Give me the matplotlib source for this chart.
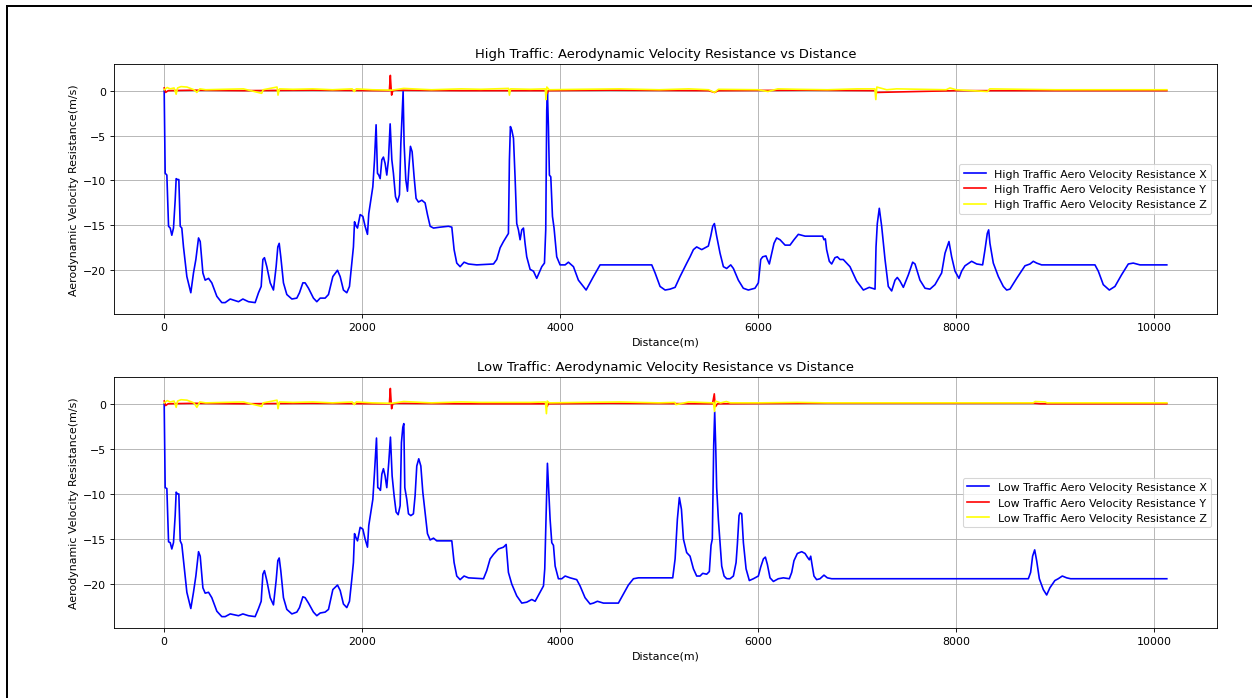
"""
Aerodynamic velocity resistance along the route, high vs low traffic.

Two stacked panels, one per traffic condition, each showing the X, Y and Z
components of the aero velocity resistance against travelled distance.
"""

import matplotlib
matplotlib.use("Agg")
import matplotlib.pyplot as plt
from matplotlib.lines import Line2D

# ---- High traffic -------------------------------------------------------
high_x_dist = [0, 10, 27, 44, 61, 77, 94, 111, 121, 135, 148, 162, 178, 195, 229, 269,
               296, 320, 347, 364, 391, 414, 448, 481, 532, 582, 616, 667, 751, 795,
               852, 919, 953, 980, 997, 1013, 1037, 1071, 1104, 1131, 1148, 1162, 1178,
               1205, 1239, 1290, 1340, 1367, 1401, 1424, 1458, 1508, 1542, 1576, 1626,
               1660, 1704, 1751, 1778, 1811, 1845, 1872, 1896, 1912, 1923, 1936, 1953,
               1980, 2007, 2030, 2054, 2067, 2088, 2108, 2125, 2141, 2155, 2168, 2182,
               2199, 2215, 2232, 2249, 2266, 2283, 2300, 2316, 2337, 2357, 2377, 2391,
               2404, 2414, 2424, 2441, 2458, 2471, 2488, 2505, 2525, 2545, 2569, 2603,
               2636, 2660, 2687, 2721, 2788, 2872, 2906, 2929, 2956, 2990, 3030, 3074,
               3158, 3327, 3360, 3394, 3428, 3461, 3478, 3488, 3498, 3512, 3529, 3545,
               3562, 3579, 3596, 3613, 3630, 3646, 3663, 3697, 3731, 3764, 3788, 3815,
               3842, 3855, 3865, 3872, 3882, 3892, 3906, 3923, 3939, 3966, 4000, 4051,
               4084, 4135, 4185, 4263, 4337, 4404, 4471, 4640, 4926, 4960, 5010, 5061,
               5111, 5162, 5212, 5280, 5313, 5347, 5380, 5431, 5498, 5522, 5542, 5559,
               5582, 5616, 5650, 5683, 5724, 5751, 5801, 5851, 5902, 5969, 6003, 6027,
               6047, 6080, 6094, 6114, 6138, 6161, 6188, 6222, 6273, 6323, 6363, 6407,
               6475, 6592, 6653, 6666, 6680, 6693, 6720, 6744, 6777, 6801, 6828, 6861,
               6929, 6996, 7064, 7124, 7182, 7192, 7205, 7225, 7249, 7283, 7316, 7350,
               7384, 7407, 7434, 7468, 7519, 7562, 7586, 7636, 7687, 7737, 7788, 7855,
               7889, 7929, 7956, 7990, 8030, 8057, 8091, 8158, 8209, 8269, 8293, 8316,
               8330, 8343, 8377, 8428, 8478, 8512, 8545, 8613, 8697, 8748, 8781, 8815,
               8865, 9404, 9438, 9488, 9549, 9606, 9673, 9741, 9791, 9859, 10130]
high_x_val = [0.0, -9.2, -9.4, -15.1, -15.3, -16.1, -15.3, -12.2, -9.8, -9.9, -9.9, -15.1,
              -15.3, -17.4, -20.7, -22.5, -20.3, -18.8, -16.4, -16.8, -20.3, -21.1, -20.9,
              -21.4, -22.9, -23.6, -23.6, -23.2, -23.5, -23.2, -23.5, -23.6, -22.5, -21.8,
              -18.8, -18.6, -19.6, -21.4, -22.2, -19.6, -17.4, -17.0, -18.5, -21.4, -22.7,
              -23.2, -23.1, -22.5, -21.4, -21.4, -22.0, -23.1, -23.5, -23.1, -23.1, -22.7,
              -20.7, -20.0, -20.7, -22.2, -22.5, -21.8, -19.2, -17.4, -14.6, -15.0, -15.3,
              -13.8, -14.0, -15.1, -16.0, -13.7, -12.2, -10.7, -7.7, -3.8, -9.2, -9.4,
              -9.8, -7.7, -7.4, -8.1, -9.4, -7.7, -3.7, -7.7, -9.2, -11.8, -12.4, -11.6,
              -5.9, -2.7, -0.1, -5.9, -9.9, -11.2, -8.8, -6.2, -6.8, -9.6, -12.0, -12.4,
              -12.2, -12.5, -13.8, -15.1, -15.3, -15.2, -15.1, -15.2, -17.7, -19.2, -19.6,
              -19.1, -19.3, -19.4, -19.3, -18.8, -17.5, -16.8, -16.2, -15.9, -7.7, -4.0,
              -4.4, -5.3, -9.6, -14.8, -15.5, -16.6, -15.5, -15.3, -17.0, -18.5, -19.9,
              -20.1, -20.9, -20.3, -19.6, -19.2, -15.5, -2.2, -0.1, -4.0, -9.4, -9.6,
              -14.0, -15.3, -18.5, -19.4, -19.4, -19.1, -19.6, -21.1, -22.2, -20.7, -19.4,
              -19.4, -19.4, -19.4, -20.3, -21.8, -22.2, -22.1, -21.9, -20.7, -19.2, -18.5,
              -17.7, -17.4, -17.7, -17.3, -16.2, -15.1, -14.8, -16.2, -18.1, -19.6, -19.8,
              -19.4, -19.8, -21.1, -22.0, -22.2, -22.0, -21.4, -18.8, -18.5, -18.4, -18.8,
              -19.3, -18.1, -17.0, -16.4, -16.6, -17.2, -17.2, -16.6, -16.0, -16.2, -16.2,
              -16.2, -16.6, -16.5, -17.7, -19.0, -19.3, -18.6, -18.5, -18.8, -18.8, -19.6,
              -21.2, -22.2, -21.9, -22.1, -17.4, -14.8, -13.1, -15.1, -18.8, -21.8, -22.3,
              -21.1, -20.8, -21.2, -21.9, -20.5, -19.1, -19.3, -21.1, -22.0, -22.1, -21.6,
              -20.3, -18.1, -16.8, -18.5, -20.1, -20.9, -20.1, -19.5, -19.0, -19.3, -19.4,
              -17.7, -15.9, -15.5, -17.0, -19.2, -20.7, -21.8, -22.2, -22.1, -20.9, -19.5,
              -19.3, -19.0, -19.2, -19.4, -19.4, -20.1, -21.6, -22.2, -21.8, -20.5, -19.3,
              -19.2, -19.4, -19.4]

high_y_dist = [0, 15, 40, 300, 800, 1500, 2200, 2275, 2285, 2292, 2298, 2310, 2340, 3000,
               3860, 3870, 3880, 4500, 5500, 5560, 5600, 6500, 7180, 7200, 8000, 10130]
high_y_val = [0.3, -0.2, 0.0, 0.05, 0.0, 0.05, 0.0, 0.0, 1.7, 0.4, -0.5, 0.0, 0.05, 0.0,
              0.0, -0.3, 0.0, 0.05, 0.0, -0.2, 0.0, 0.05, 0.0, -0.2, 0.0, 0.0]

high_z_dist = [0, 30, 60, 100, 121, 135, 170, 230, 300, 330, 360, 420, 600, 800, 985,
               1000, 1140, 1150, 1165, 1300, 1500, 1700, 1900, 1920, 1940, 2100, 2300,
               2420, 2600, 2700, 3000, 3200, 3480, 3488, 3500, 3700, 3850, 3858, 3866,
               3890, 4200, 4600, 5000, 5300, 5500, 5560, 5600, 6000, 6100, 6200, 6400,
               6700, 7000, 7180, 7190, 7200, 7300, 7400, 7900, 7940, 8000, 8320, 8340,
               9000, 10130]
high_z_val = [0.1, 0.35, 0.2, 0.3, -0.4, 0.3, 0.45, 0.4, 0.1, -0.2, 0.2, 0.1, 0.15, 0.2,
              -0.3, 0.1, 0.4, -0.5, 0.2, 0.15, 0.2, 0.1, 0.2, -0.1, 0.2, 0.1, 0.05, 0.25,
              0.15, 0.1, 0.2, 0.15, 0.25, -0.5, 0.2, 0.15, 0.2, -1.0, 0.4, 0.1, 0.15, 0.2,
              0.1, 0.2, 0.1, -0.2, 0.15, 0.1, -0.1, 0.2, 0.15, 0.1, 0.2, 0.2, -1.0, 0.4,
              0.1, 0.2, 0.1, 0.3, 0.1, -0.1, 0.2, 0.1, 0.1]

# ---- Low traffic --------------------------------------------------------
low_x_dist = [0, 10, 27, 44, 61, 77, 94, 111, 121, 135, 148, 162, 178, 195, 229, 269,
              296, 320, 347, 364, 391, 414, 448, 481, 532, 582, 616, 667, 751, 795, 852,
              919, 953, 980, 997, 1013, 1037, 1071, 1104, 1131, 1148, 1162, 1178, 1205,
              1239, 1290, 1340, 1367, 1401, 1424, 1458, 1508, 1542, 1576, 1626, 1660,
              1704, 1751, 1778, 1811, 1845, 1872, 1896, 1912, 1923, 1936, 1953, 1980,
              2007, 2030, 2054, 2067, 2088, 2108, 2125, 2145, 2158, 2172, 2185, 2199,
              2215, 2232, 2249, 2269, 2286, 2303, 2323, 2343, 2364, 2384, 2397, 2411,
              2421, 2431, 2451, 2468, 2492, 2518, 2535, 2552, 2572, 2593, 2613, 2636,
              2660, 2687, 2721, 2754, 2906, 2929, 2956, 2990, 3030, 3074, 3226, 3259,
              3293, 3327, 3377, 3428, 3455, 3478, 3512, 3562, 3613, 3663, 3714, 3748,
              3798, 3832, 3845, 3859, 3872, 3886, 3899, 3916, 3933, 3950, 3983, 4017,
              4051, 4101, 4168, 4202, 4252, 4303, 4337, 4377, 4438, 4589, 4640, 4690,
              4741, 4791, 5138, 5162, 5185, 5205, 5226, 5246, 5279, 5313, 5347, 5380,
              5414, 5441, 5481, 5508, 5525, 5538, 5552, 5562, 5572, 5582, 5599, 5616,
              5633, 5657, 5683, 5717, 5751, 5778, 5791, 5808, 5818, 5835, 5852, 5879,
              5912, 5953, 6003, 6027, 6054, 6074, 6094, 6121, 6155, 6205, 6256, 6316,
              6340, 6363, 6397, 6441, 6475, 6498, 6518, 6532, 6545, 6565, 6592, 6626,
              6666, 6700, 6744, 8731, 8754, 8774, 8795, 8815, 8842, 8882, 8916, 8949,
              8999, 9033, 9074, 9118, 9158, 10130]
low_x_val = [0.0, -9.3, -9.4, -15.3, -15.4, -16.1, -15.4, -12.4, -9.8, -10.0, -10.0,
             -15.2, -15.6, -17.4, -20.9, -22.7, -20.9, -19.1, -16.4, -16.9, -20.4, -21.0,
             -20.9, -21.5, -23.0, -23.6, -23.6, -23.3, -23.5, -23.3, -23.5, -23.6, -22.7,
             -21.9, -18.9, -18.5, -19.6, -21.5, -22.3, -19.6, -17.4, -17.1, -18.5, -21.5,
             -22.8, -23.3, -23.1, -22.6, -21.4, -21.5, -22.1, -23.1, -23.5, -23.2, -23.1,
             -22.8, -20.6, -20.1, -20.7, -22.2, -22.6, -21.9, -19.4, -17.6, -14.4, -14.8,
             -15.2, -13.7, -13.9, -15.0, -15.9, -13.5, -12.0, -10.6, -7.6, -3.8, -9.3,
             -9.4, -9.6, -7.8, -7.2, -8.0, -9.3, -6.5, -3.7, -8.0, -10.2, -12.0, -12.3,
             -11.3, -4.3, -2.6, -2.2, -9.3, -10.6, -12.2, -12.4, -12.2, -10.2, -6.9, -6.1,
             -6.9, -9.8, -12.0, -14.4, -15.1, -14.9, -15.2, -15.2, -17.6, -19.1, -19.5,
             -19.1, -19.3, -19.4, -18.5, -17.2, -16.7, -16.1, -15.9, -15.6, -18.7, -20.0,
             -21.3, -22.1, -22.0, -21.7, -21.9, -20.9, -20.2, -18.3, -12.0, -6.6, -9.8,
             -12.8, -15.4, -15.7, -18.0, -19.4, -19.4, -19.1, -19.3, -19.5, -20.2, -21.5,
             -22.2, -22.1, -21.9, -22.1, -22.1, -21.1, -20.1, -19.4, -19.3, -19.3, -17.2,
             -12.8, -10.4, -11.7, -15.0, -16.5, -16.9, -18.3, -19.1, -19.1, -18.8, -18.9,
             -18.6, -15.7, -15.0, -4.6, -0.9, -4.6, -9.3, -12.8, -15.4, -18.0, -19.1,
             -19.4, -19.4, -19.1, -17.6, -15.6, -12.4, -12.1, -12.2, -15.4, -18.3, -19.6,
             -19.4, -19.1, -18.1, -17.2, -17.0, -17.8, -19.3, -19.7, -19.4, -19.3, -19.4,
             -18.7, -17.4, -16.6, -16.4, -16.6, -17.0, -17.3, -16.9, -17.8, -19.1, -19.5,
             -19.4, -19.0, -19.3, -19.4, -19.4, -18.7, -16.9, -16.2, -17.4, -19.4, -20.6,
             -21.2, -20.4, -19.6, -19.4, -19.1, -19.3, -19.4, -19.4]

low_y_dist = [0, 15, 40, 300, 800, 1500, 2200, 2275, 2285, 2292, 2298, 2310, 2340, 3000,
              3860, 3870, 3880, 4500, 5540, 5558, 5564, 5572, 5590, 6500, 8800, 8850,
              10130]
low_y_val = [0.3, -0.2, 0.0, 0.05, 0.0, 0.05, 0.0, 0.0, 1.7, 0.4, -0.55, 0.0, 0.05, 0.0,
             0.0, -0.3, 0.0, 0.05, 0.0, 1.1, 0.2, -0.3, 0.0, 0.05, 0.05, 0.0, 0.0]

low_z_dist = [0, 30, 60, 100, 121, 135, 170, 230, 300, 330, 360, 420, 600, 800, 985,
              1000, 1140, 1150, 1165, 1300, 1500, 1700, 1900, 1920, 1940, 2100, 2300,
              2420, 2600, 2700, 3000, 3200, 3700, 3852, 3862, 3870, 3890, 4200, 4600,
              5000, 5160, 5170, 5300, 5550, 5560, 5570, 5620, 5680, 5720, 6000, 6400,
              6700, 7000, 8780, 8800, 8900, 8920, 9000, 10130]
low_z_val = [0.1, 0.35, 0.2, 0.3, -0.4, 0.3, 0.45, 0.4, 0.1, -0.4, 0.2, 0.1, 0.15, 0.2,
             -0.3, 0.1, 0.4, -0.55, 0.2, 0.15, 0.2, 0.1, 0.2, -0.1, 0.2, 0.1, 0.05, 0.25,
             0.15, 0.1, 0.2, 0.15, 0.15, 0.2, -1.1, 0.3, 0.1, 0.15, 0.2, 0.1, 0.15, -0.1,
             0.2, 0.1, -0.85, 0.3, 0.1, 0.25, 0.1, 0.1, 0.15, 0.1, 0.1, 0.1, 0.25, 0.2,
             0.1, 0.1, 0.1]


def plot_panel(ax, label, xs, ys, zs):
    """Draw the X/Y/Z resistance traces for one traffic condition."""
    ax.plot(xs[0], xs[1], color='blue', linewidth=1.5,
            label=f'{label} Traffic Aero Velocity Resistance X')
    ax.plot(ys[0], ys[1], color='red', linewidth=1.5,
            label=f'{label} Traffic Aero Velocity Resistance Y')
    ax.plot(zs[0], zs[1], color='yellow', linewidth=1.5,
            label=f'{label} Traffic Aero Velocity Resistance Z')

    ax.set_title(f'{label} Traffic: Aerodynamic Velocity Resistance vs Distance')
    ax.set_xlabel('Distance(m)')
    ax.set_ylabel('Aerodynamic Velocity Resistance(m/s)')
    ax.set_xticks([0, 2000, 4000, 6000, 8000, 10000])
    ax.set_yticks([0, -5, -10, -15, -20])
    ax.grid(True)
    ax.legend(loc='center right')


DPI = 79
fig = plt.figure(figsize=(1252 / DPI, 699 / DPI), dpi=DPI)
ax_high = fig.add_axes([0.0911, 0.5494, 0.8809, 0.3576])
ax_low = fig.add_axes([0.0911, 0.1001, 0.8809, 0.3591])

plot_panel(ax_high, 'High', (high_x_dist, high_x_val),
           (high_y_dist, high_y_val), (high_z_dist, high_z_val))
plot_panel(ax_low, 'Low', (low_x_dist, low_x_val),
           (low_y_dist, low_y_val), (low_z_dist, low_z_val))

# thin black frame along the top and left edge
fig.add_artist(Line2D([0.0056, 0.0056], [0.0, 0.99], transform=fig.transFigure,
                      color='black', linewidth=1.8))
fig.add_artist(Line2D([0.0056, 1.0], [0.99, 0.99], transform=fig.transFigure,
                      color='black', linewidth=1.8))

fig.savefig('out.png', dpi=DPI)
